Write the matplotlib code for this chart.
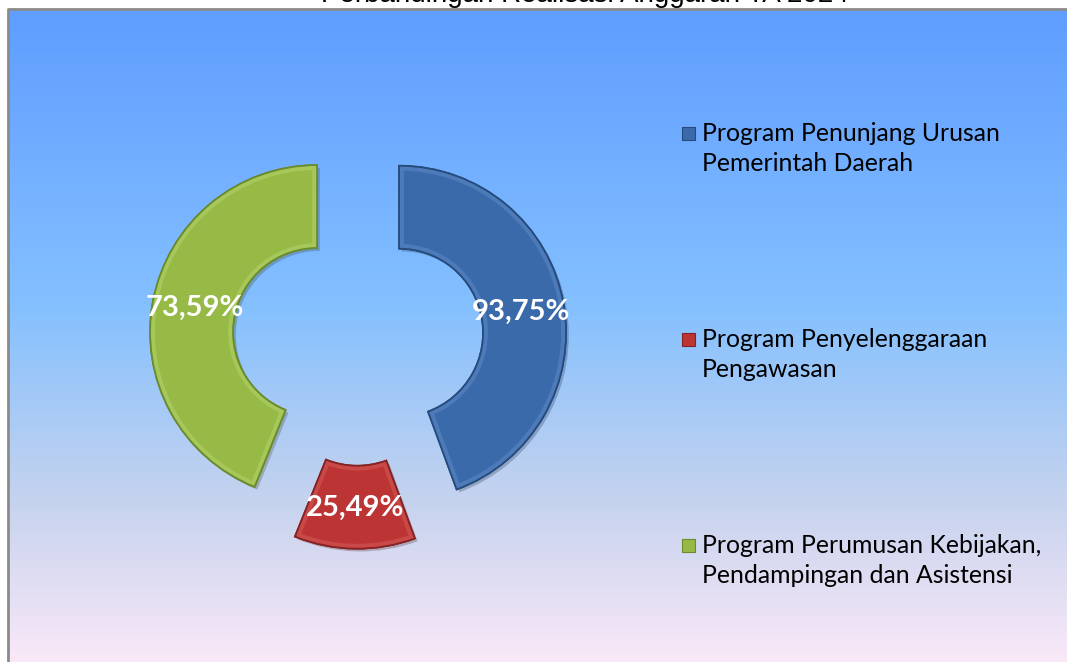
import numpy as np
import matplotlib
matplotlib.use("Agg")
import matplotlib.pyplot as plt
from matplotlib.colors import LinearSegmentedColormap
from matplotlib.patches import Rectangle, Wedge
import matplotlib.patheffects as pe

# data
programs = [
    "Program Penunjang Urusan\nPemerintah Daerah",
    "Program Penyelenggaraan\nPengawasan",
    "Program Perumusan Kebijakan,\nPendampingan dan Asistensi",
]
slice_shares = [44.4, 11.7, 43.9]          # share of the ring
label_values = ["93,75%", "25,49%", "73,59%"]
title = "Perbandingan Realisasi Anggaran TA 2024"

colors = ["#3b6aab", "#bd3434", "#97ba47"]
edges = ["#264a7c", "#862222", "#6a8a2c"]
highlights = ["#6f9bd8", "#e27070", "#c4e07c"]

W, H = 1067, 662
fig = plt.figure(figsize=(W / 100, H / 100), dpi=100)
ax = fig.add_axes([0, 0, 1, 1])
ax.set_facecolor("#fbe9f8")

# background gradient of the chart area
bg = LinearSegmentedColormap.from_list(
    "bg", [(0.0, "#5f9dff"), (0.45, "#84c0ff"), (0.75, "#c6d3ee"), (1.0, "#fbe9f8")]
)
grad = np.linspace(0, 1, 256).reshape(-1, 1)
ax.imshow(grad, cmap=bg, aspect="auto", extent=(8, W + 5, -5, H - 9), origin="upper",
          interpolation="bilinear", zorder=0)
ax.axvspan(0, 8, color="white", zorder=0.5)
ax.axhspan(H - 9, H, color="white", zorder=0.5)
ax.plot([7.5, 7.5, W + 5], [-5, H - 8.5, H - 8.5], color="#8a8a8a", lw=2, zorder=1,
        solid_capstyle="butt")

# exploded doughnut
R = 167
wedges, _ = ax.pie(
    slice_shares,
    center=(358, H - 340),
    radius=R,
    startangle=90,
    counterclock=False,
    explode=[41.7] * len(slice_shares),
    colors=colors,
    wedgeprops=dict(width=83, linewidth=1.2),
)
for w, ec, hl in zip(wedges, edges, highlights):
    w.set_edgecolor(ec)
    w.set_zorder(3)
    w.set_path_effects([pe.SimplePatchShadow(offset=(2, -2), alpha=0.25), pe.Normal()])
    # soft bevel: a light stroke kept inside the slice
    bevel = Wedge(w.center, w.r, w.theta1, w.theta2, width=w.width, facecolor="none",
                  edgecolor=hl, lw=7, alpha=0.35, zorder=3.5)
    ax.add_patch(bevel)
    bevel.set_clip_path(w)
    rim = Wedge(w.center, w.r, w.theta1, w.theta2, width=w.width, facecolor="none",
                edgecolor=ec, lw=1.2, zorder=3.6)
    ax.add_patch(rim)
ax.set_xlim(0, W)
ax.set_ylim(0, H)
ax.set_aspect("equal")
ax.axis("off")

# value labels
label_pos = [(521, H - 312), (355, H - 508), (195, H - 308)]
for (x, y), txt in zip(label_pos, label_values):
    ax.text(x, y, txt, ha="center", va="center", color="white", fontsize=21,
            fontweight="bold", family="Lato", zorder=5)

# legend
for i, (name, c, ec) in enumerate(zip(programs, colors, edges)):
    y = H - 133 - i * 206
    ax.add_patch(Rectangle((682, y - 7), 13, 13, facecolor=c, edgecolor=ec, lw=0.8, zorder=5))
    ax.text(702, y + 11, name, ha="left", va="top", fontsize=17.8, family="Lato",
            color="black", linespacing=1.38, zorder=5)

# title (cut off at the top of the image, as in the source)
ax.text(585, H - 2, title, ha="center", va="baseline", fontsize=20,
        family="Liberation Sans", color="black", zorder=5, clip_on=False)

fig.savefig("out.png", dpi=100, facecolor="white")
